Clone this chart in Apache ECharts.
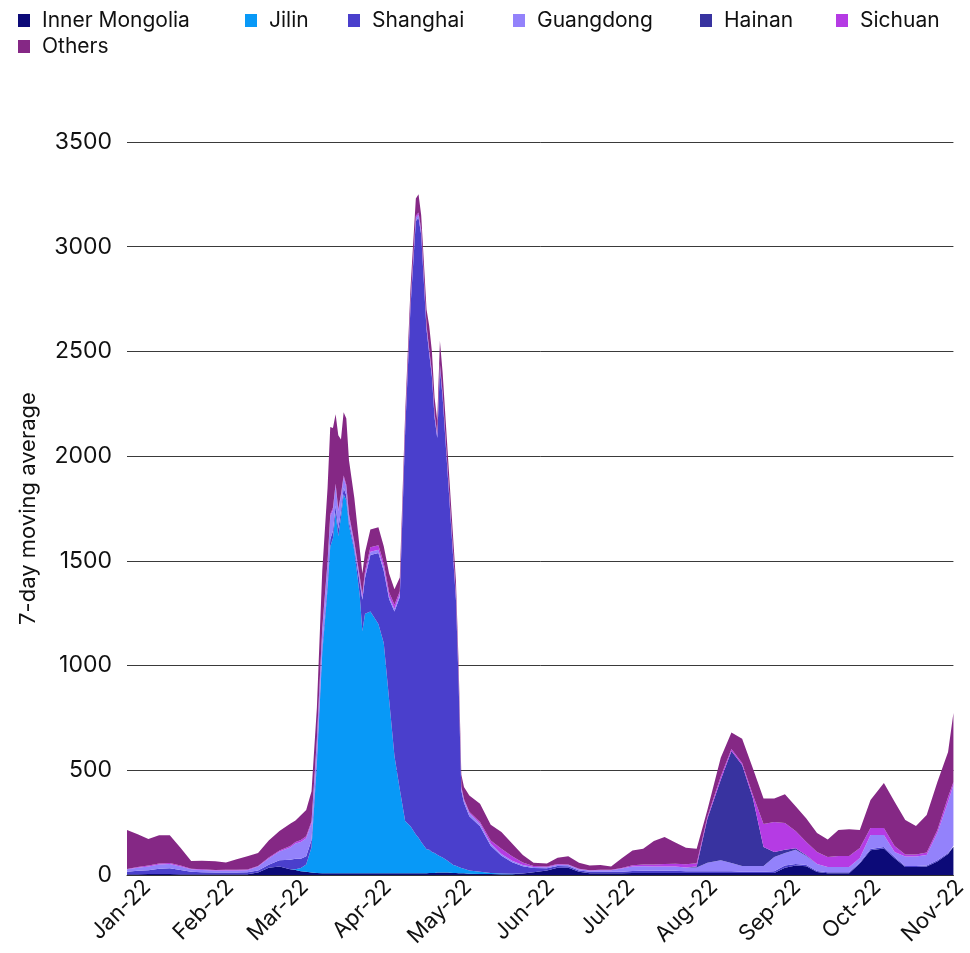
<!DOCTYPE html>
<html>
<head>
<meta charset="utf-8">
<script src="https://cdn.jsdelivr.net/npm/echarts@6/dist/echarts.min.js"></script>
<style>html,body{margin:0;padding:0;background:#fff}#c{width:970px;height:953px}</style>
</head>
<body>
<div id="c"></div>
<script>
// Series names (bottom to top of the stack)
const seriesNames = ['Inner Mongolia', 'Jilin', 'Shanghai', 'Guangdong', 'Hainan', 'Sichuan', 'Others'];

// Sample dates, as days since 2022-01-01 (negative = late Dec 2021)
const days = [-3,1,5,9,13,17,21,25,30,34,38,42,46,50,54,58,
  60,62,64,66,68,70,72,73,74,75,76,77,78,79,80,82,84,85,86,88,91,93,95,97,99,101,103,105,106,107,109,110,111,112,113,114,115,117,119,120,121,122,123,125,
  129,133,137,141,145,149,154,158,162,166,170,174,178,182,186,190,194,198,202,206,210,214,219,223,227,231,235,239,243,247,251,255,259,263,267,271,275,280,284,288,292,296,300,304,306];

const innerMongolia = [3,4,5,5,5,4,3,3,3,3,3,4,12,35,40,28,
  24,18,15,12,10,8,8,8,8,8,8,8,8,8,8,8,8,8,8,8,8,8,8,8,8,8,8,8,8,8,8,10,10,10,12,12,12,12,10,10,8,8,8,6,
  5,5,4,4,7,13,22,35,35,15,8,8,8,8,9,10,10,10,10,9,9,10,10,10,10,10,10,10,35,45,42,14,8,8,8,55,118,127,80,38,38,40,65,100,135];

const jilin = [0,0,0,0,0,0,0,0,0,0,0,0,0,0,0,0,
  4,15,35,120,520,1050,1360,1560,1600,1720,1610,1700,1810,1780,1660,1540,1330,1156,1240,1250,1190,1100,830,560,400,250,225,185,170,150,115,110,100,95,85,78,72,55,38,34,30,26,22,15,
  10,5,3,2,0,0,0,0,0,0,0,0,0,0,0,0,0,0,0,0,0,0,0,0,0,0,0,0,0,0,0,0,0,0,0,0,0,0,0,0,0,0,0,0,0];

const shanghai = [12,16,18,25,27,20,12,10,9,9,9,9,10,14,30,45,
  50,45,40,35,30,30,30,35,35,35,35,30,30,25,20,15,60,150,170,270,340,345,480,690,920,1860,2480,2930,2960,2900,2480,2370,2270,2080,1990,2330,2200,1830,1460,1270,880,370,315,260,
  218,130,85,55,35,20,10,8,7,7,7,7,7,8,10,10,10,10,10,9,9,8,8,8,6,6,6,8,10,7,6,5,5,5,5,5,6,7,6,5,5,5,5,5,5];

const guangdong = [12,15,18,20,20,17,12,11,10,10,10,10,18,30,42,58,
  72,80,85,80,80,80,90,110,100,95,85,70,50,40,25,15,15,12,12,15,15,15,12,12,12,12,12,15,15,15,12,12,12,12,12,12,12,12,12,12,12,12,12,15,
  12,10,8,7,6,5,5,6,6,6,6,8,8,15,22,22,20,20,20,18,18,40,52,39,27,27,27,68,60,68,43,34,25,25,25,21,67,57,24,45,45,50,130,244,290];

const hainan = [0,0,0,0,0,0,0,0,0,0,0,0,0,0,0,0,
  0,0,0,0,0,0,0,0,0,0,0,0,0,0,0,0,0,0,0,0,0,0,0,0,0,0,0,0,0,0,0,0,0,0,0,0,0,0,0,0,0,0,0,0,
  0,0,0,0,0,0,0,0,0,0,0,0,0,0,0,0,0,0,0,0,5,210,385,535,482,325,91,24,15,8,3,0,0,0,0,0,0,0,0,0,0,0,0,0,0];

const sichuan = [2,3,4,5,5,4,3,3,2,3,3,3,3,4,5,7,
  8,9,10,10,10,10,10,10,10,10,10,10,10,10,10,12,15,16,20,22,22,22,20,20,15,10,10,10,10,10,10,10,10,8,8,8,8,8,8,8,8,6,6,6,
  8,15,25,22,12,5,3,3,2,2,2,2,2,3,5,8,10,12,14,15,15,10,15,10,10,15,110,143,128,82,64,57,48,53,53,48,33,33,29,10,10,12,15,23,14];

const others = [186,157,127,135,133,85,37,41,42,35,50,64,62,82,93,107,
  102,118,125,143,150,272,352,416,381,332,352,262,302,317,257,210,132,98,90,85,85,80,90,75,65,60,65,82,87,67,75,110,98,75,63,110,96,83,72,66,62,58,57,78,
  87,75,80,60,35,15,15,30,40,28,22,23,15,46,71,75,112,130,101,79,69,32,90,78,115,127,121,112,137,118,112,90,84,124,127,86,134,215,211,165,136,180,229,215,330];

const seriesValues = [innerMongolia, jilin, shanghai, guangdong, hainan, sichuan, others];
const seriesColors = ['#0c0a78', '#0899f7', '#4a3fcc', '#9382fb', '#3833a0', '#b53be4', '#852885'];

// Axis ticks
const tickLabels = ['Jan-22','Feb-22','Mar-22','Apr-22','May-22','Jun-22','Jul-22','Aug-22','Sep-22','Oct-22','Nov-22'];
const yMax = 3500, yStep = 500;
const firstDay = -3, lastDay = 306;   // axis span, days since 2022-01-01

const DAY = 86400000;
const T0 = Date.UTC(2022, 0, 1);
const toTime = d => T0 + d * DAY;
const dayOfMonthStart = m => Math.round((Date.UTC(2022, m, 1) - T0) / DAY);
const tickDays = tickLabels.map((_, m) => dayOfMonthStart(m));

const legendLeft = [13, 240, 343, 508, 695, 831, 13];
const legendTop = [5, 5, 5, 5, 5, 5, 31];

const chart = echarts.init(document.getElementById('c'));
const font = 'Inter, "Noto Sans", sans-serif';
chart.setOption({
  animation: false,
  textStyle: { fontFamily: font },
  legend: seriesNames.map((n, i) => ({
    data: [n], left: legendLeft[i], top: legendTop[i],
    icon: 'rect', itemWidth: 12, itemHeight: 13,
    textStyle: { fontSize: 21, color: '#111', fontFamily: font, padding: [0, 0, 0, 7] }
  })),
  grid: { left: 127, right: 12, top: 142, bottom: 78 },
  xAxis: [{
    // time axis used for stacking and positioning the data
    type: 'time', position: 'bottom',
    min: toTime(firstDay), max: toTime(lastDay),
    axisLine: { show: false }, axisTick: { show: false },
    splitLine: { show: false }, axisLabel: { show: false }
  }, {
    // same span in days, only used for month labels
    type: 'value', position: 'bottom', offset: 0,
    min: firstDay, max: lastDay,
    axisLine: { show: true, lineStyle: { color: '#333', width: 1 } },
    axisTick: { show: false },
    splitLine: { show: false },
    axisLabel: {
      customValues: tickDays,
      rotate: 45, fontSize: 22, color: '#111', margin: 5, fontFamily: font,
      verticalAlign: 'top', padding: [0, -6, 0, 0],
      formatter: v => tickLabels[tickDays.indexOf(v)] || ''
    }
  }],
  yAxis: {
    type: 'value', min: 0, max: yMax, interval: yStep,
    name: '7-day moving average', nameLocation: 'middle', nameGap: 88,
    nameTextStyle: { fontSize: 22, color: '#111', fontFamily: font },
    axisLine: { show: false }, axisTick: { show: false },
    axisLabel: { fontSize: 23, color: '#111', margin: 15, fontFamily: font, formatter: v => String(v) },
    splitLine: { lineStyle: { color: '#3a3a3a', width: 1 } }
  },
  series: seriesNames.map((n, i) => ({
    name: n, type: 'line', stack: 'total', symbol: 'none', xAxisIndex: 0,
    lineStyle: { width: 0 },
    itemStyle: { color: seriesColors[i] },
    areaStyle: { color: seriesColors[i], opacity: 1 },
    data: days.map((d, k) => [toTime(d), seriesValues[i][k]])
  }))
});
</script>
</body>
</html>
